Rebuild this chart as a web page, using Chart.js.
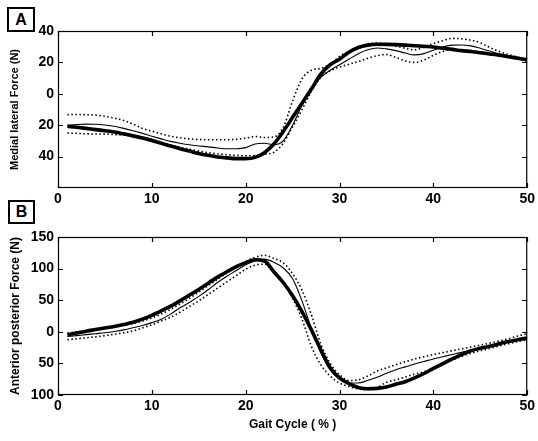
<!DOCTYPE html>
<html>
<head>
<meta charset="utf-8">
<script src="https://cdn.jsdelivr.net/npm/chart.js@4.4.1/dist/chart.umd.min.js"></script>
<style>
  html, body { margin: 0; padding: 0; background: #fff; }
  #wrap { position: relative; width: 538px; height: 441px; overflow: hidden; background: #fff; }
  .cv { position: absolute; left: 0; }
  .panel { position: absolute; box-sizing: border-box; border: 2px solid #000; font: bold 16px "Liberation Sans", Arial, sans-serif; color: #000; display: flex; align-items: center; justify-content: center; background: #fff; }
</style>
</head>
<body>
<div id="wrap">
  <div class="cv" style="top:0;width:538px;height:210px;"><canvas id="cA"></canvas></div>
  <div class="cv" style="top:205px;width:538px;height:236px;"><canvas id="cB"></canvas></div>
  <div class="panel" style="left:7px;top:7px;width:28px;height:25px;">A</div>
  <div class="panel" style="left:8px;top:200px;width:27px;height:24px;">B</div>
</div>
<script>
// ---- data ----
const gaitPct = [1,2,3,4,5,6,7,8,9,10,11,12,13,14,15,16,17,18,19,20,21,22,23,24,25,26,27,28,29,30,31,32,33,34,35,36,37,38,39,40,41,42,43,44,45,46,47,48,49,50];

// Panel A: medial-lateral force (N)
const mlThick = [-20.7,-21.3,-22,-22.8,-23.5,-24.3,-25.5,-26.8,-28.2,-29.8,-31.5,-33.3,-35,-36.5,-38,-39.2,-40.2,-40.8,-41.3,-41.3,-40.5,-37.5,-32,-24,-15,-6,3,12.5,18.5,22,26.5,29.5,31,31.6,31.5,31.3,31,30.6,30.2,29.8,29,28.3,27.5,26.9,26.2,25.4,24.6,23.6,22.7,21.6];
const mlThin  = [-20.1,-19.6,-19.3,-19.4,-19.9,-20.7,-22,-23.5,-25.2,-27,-28.7,-30.3,-31.5,-32.5,-33.2,-33.8,-34.5,-35,-35,-34.3,-32,-31.5,-32.4,-30,-20,-7.5,2.6,10.5,15,18.5,22,25.5,28,29.2,28.6,27.5,26,24.8,25.6,27.8,29.8,31,31.1,30.5,29,27.2,25.5,24.2,22.9,21.6];
const mlUpper = [-13.3,-13.2,-13.3,-13.6,-14.3,-15.5,-17,-19.3,-22,-23.8,-25.5,-27,-28,-28.7,-29.1,-29.3,-29.3,-29.3,-29,-28.3,-27.2,-27.8,-27.5,-21.5,-4.5,9.5,15,16.2,18.8,23.8,27.2,30,31.8,32.3,31.5,30.3,29,28,29.8,32,33.8,35.3,35,34.2,32.5,29.5,27,25,23.3,21.6];
const mlLower = [-25,-25.2,-25.5,-25.6,-25.7,-26,-26.3,-26.8,-27.5,-29,-30.8,-32.5,-34,-35.3,-36.5,-37.5,-38.3,-38.8,-39.2,-39.5,-39.3,-38.5,-37.3,-31.5,-21,-10.2,1.5,10.5,14.6,17,18.8,20.5,22.6,24.3,25,23.2,21,20,21.5,24.5,27,28.2,28,27.5,26.6,25.6,24.5,23.3,22,20.5];

// Panel B: anterior-posterior force (N)
const apThick = [-4.7,-2,1,3.5,6,8.5,11.5,15,20,26,33,40.5,49,58,67,77,86.5,95,103,109.5,114,112,95,78,57,32,3,-28,-57,-73,-82,-88,-90,-89.5,-87.5,-83,-79,-73,-66,-58,-50.5,-43,-36,-30,-26,-23,-19,-15.5,-12.5,-10];
const apThin  = [-7.4,-6,-4.5,-3,-1.5,0.5,3,6.5,10,14.5,20,28,38,46.5,56,66.5,78,88,97,106,112,115,110,101,84,49,5,-33,-60,-75,-81,-81,-77,-72,-65.5,-60,-55.5,-51,-47,-43,-39.5,-36,-32.5,-29.5,-26.5,-23.5,-20,-16.5,-13,-9];
const apUpper = [-2,0,2,4,6,8.5,10.5,13,17,22,28,35.5,44,53,63,73,83,93,102.5,111,118,121,116,109,92,66,27,-19,-50,-68,-77,-76,-70,-62,-57,-52,-47.5,-43,-39.5,-36,-33,-30,-27,-24,-21,-18,-14.5,-11,-6.5,-3];
const apLower = [-12.6,-11,-9.5,-8,-6,-4,-1.5,1.5,6,11,17,23,31,40,49,59,69,79,89,99,105.5,107,95,78,53,20,-23,-52,-70,-81,-86.5,-90.5,-91.5,-88,-80,-76,-71.5,-67,-63,-57.5,-51.5,-45,-39,-34,-30,-26.5,-22.5,-19,-15.5,-12];

// ---- ticks ----
const xTicks = [0,10,20,30,40,50];
const yTicksA = [-40,-20,0,20,40];
const yLabelsA = ['40','20','0','20','40'];
const yTicksB = [-100,-50,0,50,100,150];
const yLabelsB = ['100','50','0','50','100','150'];

Chart.defaults.font.family = '"Liberation Sans", Arial, sans-serif';
Chart.defaults.font.weight = 'bold';
Chart.defaults.color = '#000';

const frameTicks = {
  id: 'frameTicks',
  afterDatasetsDraw(chart) {
    const {ctx, chartArea: a, scales: {x, y}} = chart;
    ctx.save();
    ctx.strokeStyle = '#000';
    ctx.lineWidth = 1.2;
    ctx.strokeRect(a.left + 0.5, a.top + 0.5, a.right - a.left - 1, a.bottom - a.top - 1);
    const L = 5;
    ctx.beginPath();
    x.ticks.forEach(t => {
      const p = Math.round(x.getPixelForValue(t.value)) + 0.5;
      ctx.moveTo(p, a.bottom); ctx.lineTo(p, a.bottom - L);
      ctx.moveTo(p, a.top); ctx.lineTo(p, a.top + L);
    });
    y.ticks.forEach(t => {
      const p = Math.round(y.getPixelForValue(t.value)) + 0.5;
      ctx.moveTo(a.left, p); ctx.lineTo(a.left + L, p);
      ctx.moveTo(a.right, p); ctx.lineTo(a.right - L, p);
    });
    ctx.stroke();
    ctx.restore();
  }
};

function pts(arr) { return gaitPct.map((x, i) => ({x: x, y: arr[i]})); }

function makeDatasets(thick, thin, upper, lower) {
  const base = {pointRadius: 0, fill: false, cubicInterpolationMode: 'monotone', borderColor: '#000'};
  return [
    Object.assign({}, base, {label: 'upper', data: pts(upper), borderWidth: 1.6, borderDash: [1.5, 2.5]}),
    Object.assign({}, base, {label: 'lower', data: pts(lower), borderWidth: 1.6, borderDash: [1.5, 2.5]}),
    Object.assign({}, base, {label: 'thin', data: pts(thin), borderWidth: 1.1}),
    Object.assign({}, base, {label: 'thick', data: pts(thick), borderWidth: 3.6})
  ];
}

function makeChart(id, datasets, yMin, yMax, yTicks, yLabels, yTitle, yTitleSize, padTop, xHeight, showXTitle) {
  return new Chart(document.getElementById(id), {
    type: 'line',
    data: {datasets: datasets},
    plugins: [frameTicks],
    options: {
      responsive: true,
      maintainAspectRatio: false,
      animation: false,
      layout: {padding: {top: padTop, right: 8, left: 0, bottom: 0}},
      plugins: {legend: {display: false}, tooltip: {enabled: false}},
      scales: {
        x: {
          type: 'linear', min: 0, max: 50,
          afterBuildTicks: s => { s.ticks = xTicks.map(v => ({value: v})); },
          afterFit: s => { s.height = xHeight; },
          grid: {display: false, drawTicks: false},
          border: {display: false},
          ticks: {padding: 3, font: {size: 14, weight: 'bold'}, maxRotation: 0, autoSkip: false},
          title: {display: showXTitle, text: 'Gait Cycle ( % )', font: {size: 12, weight: 'bold'}, padding: {top: 0, bottom: 9}}
        },
        y: {
          type: 'linear', min: yMin, max: yMax,
          afterBuildTicks: s => { s.ticks = yTicks.map(v => ({value: v})); },
          afterFit: s => { s.width = 58; },
          grid: {display: false, drawTicks: false},
          border: {display: false},
          ticks: {padding: 4, font: {size: 14, weight: 'bold'}, autoSkip: false,
                  callback: (v, i) => yLabels[i]},
          title: {display: true, text: yTitle, font: {size: yTitleSize, weight: 'bold'}, padding: {top: 8.5, bottom: 0}}
        }
      }
    }
  });
}

makeChart('cA', makeDatasets(mlThick, mlThin, mlUpper, mlLower), -60, 40, yTicksA, yLabelsA,
          'Medial lateral Force (N)', 11, 31, 22, false);
makeChart('cB', makeDatasets(apThick, apThin, apUpper, apLower), -100, 150, yTicksB, yLabelsB,
          'Anterior posterior Force (N)', 12, 32, 46, true);
</script>
</body>
</html>
